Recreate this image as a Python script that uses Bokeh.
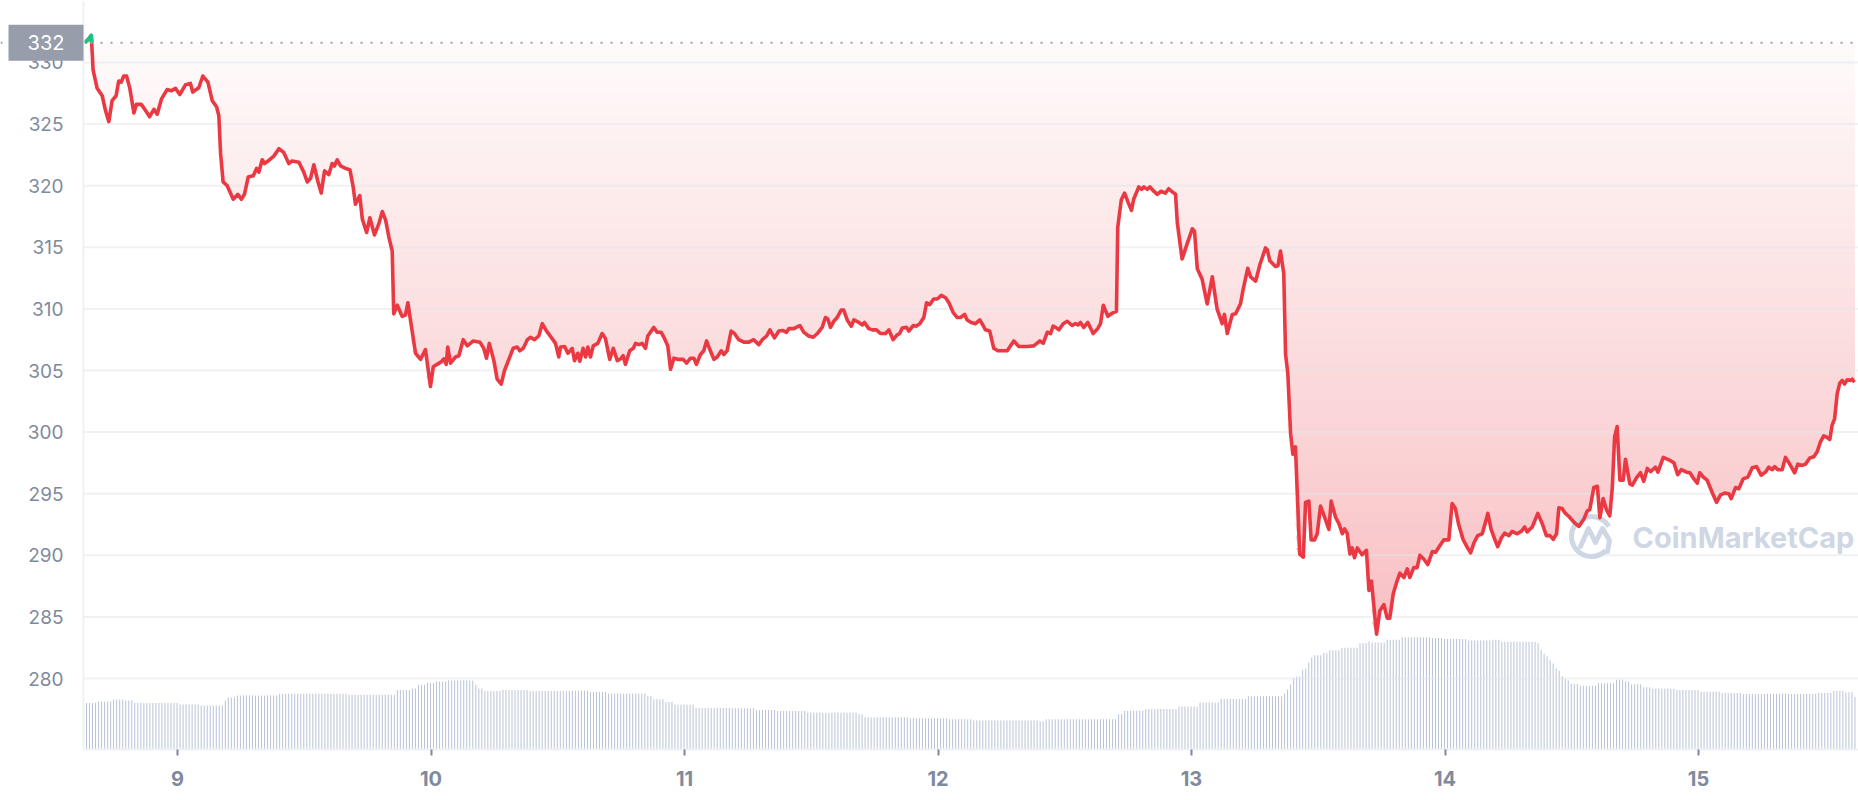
import numpy as np
from bokeh.plotting import figure
from bokeh.models import Range1d, FixedTicker, Span
from bokeh.embed import file_html
from bokeh.resources import INLINE
from bokeh.core.properties import value

# ---------------- data ----------------
price_t = [
    8.634, 8.649, 8.660, 8.667, 8.683, 8.703, 8.716, 8.729, 8.742, 8.758, 8.768,
    8.778, 8.788, 8.799, 8.812, 8.828, 8.838, 8.857, 8.874, 8.890, 8.907,
    8.920, 8.937, 8.959, 8.975, 8.992, 9.009, 9.032, 9.051, 9.060, 9.084,
    9.100, 9.120, 9.137, 9.154, 9.163, 9.170, 9.180, 9.196, 9.220, 9.238,
    9.252, 9.264, 9.279, 9.299, 9.312, 9.321, 9.334, 9.343, 9.360, 9.380,
    9.400, 9.419, 9.439, 9.452, 9.479, 9.498, 9.512, 9.525, 9.538, 9.553,
    9.567, 9.580, 9.597, 9.610, 9.619, 9.630, 9.643, 9.663, 9.680, 9.693,
    9.702, 9.719, 9.729, 9.746, 9.759, 9.777, 9.794, 9.808, 9.821, 9.834,
    9.847, 9.853, 9.867, 9.886, 9.899, 9.909, 9.919, 9.939, 9.959, 9.978,
    9.998, 10.009, 10.024, 10.040, 10.051, 10.060, 10.066, 10.077, 10.097, 10.110,
    10.127, 10.143, 10.167, 10.193, 10.208, 10.219, 10.230, 10.248, 10.261, 10.277,
    10.290, 10.311, 10.324, 10.340, 10.350, 10.364, 10.380, 10.393, 10.408, 10.425,
    10.439, 10.456, 10.474, 10.491, 10.504, 10.511, 10.527, 10.540, 10.557, 10.566,
    10.579, 10.587, 10.600, 10.610, 10.619, 10.629, 10.640, 10.658, 10.675, 10.688,
    10.705, 10.719, 10.735, 10.748, 10.758, 10.767, 10.784, 10.798, 10.807, 10.820,
    10.833, 10.846, 10.855, 10.879, 10.892, 10.908, 10.921, 10.934, 10.945, 10.958,
    10.978, 10.995, 11.008, 11.024, 11.037, 11.047, 11.063, 11.076, 11.087, 11.100,
    11.116, 11.129, 11.145, 11.155, 11.168, 11.184, 11.197, 11.214, 11.234, 11.254,
    11.273, 11.293, 11.307, 11.324, 11.337, 11.355, 11.372, 11.389, 11.402, 11.412,
    11.431, 11.455, 11.471, 11.490, 11.508, 11.524, 11.543, 11.556, 11.565, 11.576,
    11.589, 11.602, 11.618, 11.628, 11.642, 11.658, 11.668, 11.688, 11.701, 11.710,
    11.727, 11.741, 11.757, 11.773, 11.793, 11.806, 11.823, 11.839, 11.849, 11.859,
    11.876, 11.885, 11.902, 11.915, 11.928, 11.944, 11.955, 11.968, 11.983, 11.997,
    12.013, 12.030, 12.043, 12.060, 12.076, 12.089, 12.105, 12.115, 12.131, 12.148,
    12.165, 12.178, 12.187, 12.204, 12.220, 12.236, 12.260, 12.273, 12.299, 12.319,
    12.352, 12.378, 12.402, 12.415, 12.431, 12.444, 12.454, 12.464, 12.477, 12.494,
    12.510, 12.529, 12.542, 12.552, 12.562, 12.575, 12.591, 12.612, 12.630, 12.641,
    12.652, 12.670, 12.687, 12.704, 12.709, 12.723, 12.736, 12.750, 12.763, 12.772,
    12.792, 12.803, 12.812, 12.825, 12.836, 12.851, 12.865, 12.880, 12.897, 12.910,
    12.924, 12.937, 12.944, 12.963, 12.983, 13.003, 13.012, 13.023, 13.042, 13.062,
    13.082, 13.101, 13.121, 13.130, 13.141, 13.161, 13.174, 13.193, 13.204, 13.222,
    13.233, 13.253, 13.270, 13.292, 13.299, 13.309, 13.331, 13.341, 13.351, 13.364,
    13.371, 13.380, 13.391, 13.400, 13.410, 13.427, 13.441, 13.450, 13.463, 13.472,
    13.485, 13.496, 13.509, 13.525, 13.542, 13.551, 13.568, 13.581, 13.595, 13.604,
    13.614, 13.625, 13.634, 13.643, 13.654, 13.673, 13.690, 13.700, 13.710, 13.730,
    13.743, 13.759, 13.772, 13.782, 13.796, 13.809, 13.822, 13.838, 13.851, 13.861,
    13.877, 13.890, 13.901, 13.916, 13.932, 13.950, 13.963, 13.980, 13.995, 14.015,
    14.028, 14.041, 14.054, 14.072, 14.088, 14.101, 14.114, 14.129, 14.147, 14.169,
    14.182, 14.199, 14.208, 14.222, 14.235, 14.252, 14.265, 14.285, 14.301, 14.314,
    14.324, 14.344, 14.366, 14.384, 14.400, 14.414, 14.427, 14.440, 14.449, 14.462,
    14.475, 14.489, 14.508, 14.528, 14.548, 14.561, 14.571, 14.587, 14.601, 14.611,
    14.624, 14.637, 14.650, 14.660, 14.669, 14.679, 14.690, 14.703, 14.712, 14.729,
    14.739, 14.756, 14.771, 14.784, 14.798, 14.811, 14.830, 14.840, 14.861, 14.883,
    14.903, 14.918, 14.932, 14.953, 14.966, 14.982, 14.995, 15.005, 15.019, 15.034,
    15.054, 15.071, 15.087, 15.103, 15.120, 15.129, 15.146, 15.159, 15.176, 15.195,
    15.212, 15.229, 15.247, 15.264, 15.277, 15.291, 15.300, 15.313, 15.330, 15.343,
    15.360, 15.379, 15.392, 15.409, 15.422, 15.439, 15.455, 15.468, 15.481, 15.494,
    15.505, 15.518, 15.527, 15.537, 15.547, 15.557, 15.567, 15.576, 15.587, 15.600,
    15.606, 15.615,
]
price_v = [
    331.6, 331.9, 332.2, 329.4, 327.9, 327.3, 326.1, 325.2, 326.9, 327.3, 328.5,
    328.4, 328.9, 328.9, 327.9, 325.9, 326.6, 326.6, 326.1, 325.6, 326.2,
    325.8, 327.05, 327.8, 327.7, 327.9, 327.4, 328.2, 328.3, 327.6, 327.95,
    328.9, 328.4, 326.9, 326.4, 325.7, 322.6, 320.3, 320.0, 318.9, 319.3,
    318.9, 319.3, 320.7, 320.8, 321.4, 321.1, 322.1, 321.8, 322.05, 322.4,
    323.0, 322.7, 321.8, 322.0, 321.9, 321.1, 320.3, 320.6, 321.7, 320.4,
    319.4, 321.2, 320.9, 321.8, 321.6, 322.1, 321.6, 321.4, 321.3, 319.9,
    318.5, 319.2, 317.3, 316.2, 317.4, 316.0, 316.9, 317.9, 317.2, 315.8,
    314.7, 309.6, 310.3, 309.4, 309.5, 310.5, 309.1, 306.4, 305.9, 306.7,
    303.7, 305.3, 305.5, 305.7, 305.95, 305.5, 306.9, 305.6, 306.1, 306.2,
    307.5, 307.0, 307.4, 307.3, 306.8, 306.0, 307.2, 305.8, 304.3, 303.9,
    305.0, 306.1, 306.8, 306.9, 306.6, 306.8, 307.5, 307.7, 307.5, 307.8,
    308.8, 308.2, 307.7, 307.2, 306.1, 306.9, 306.95, 306.4, 306.8, 305.8,
    306.4, 305.75, 306.8, 306.1, 306.9, 306.1, 307.0, 307.2, 308.0, 307.6,
    305.9, 306.8, 305.8, 305.95, 306.2, 305.5, 306.6, 306.8, 307.2, 307.1,
    307.2, 306.8, 307.8, 308.5, 308.1, 308.1, 307.6, 307.0, 305.1, 306.0,
    305.9, 305.9, 305.6, 306.0, 306.0, 305.5, 306.3, 306.6, 307.4, 306.7,
    305.9, 306.1, 306.6, 306.3, 306.6, 308.2, 308.0, 307.5, 307.3, 307.3,
    307.5, 307.1, 307.5, 307.8, 308.3, 307.65, 308.2, 308.25, 308.1, 308.4,
    308.4, 308.65, 308.1, 307.8, 307.7, 308.0, 308.5, 309.3, 309.2, 308.5,
    309.0, 309.3, 309.9, 309.9, 309.1, 308.6, 309.1, 308.9, 308.7, 308.9,
    308.4, 308.3, 308.3, 308.0, 308.0, 308.3, 307.5, 307.9, 308.0, 308.45,
    308.5, 308.2, 308.65, 308.6, 308.8, 309.3, 310.5, 310.35, 310.8, 310.8,
    311.1, 310.9, 310.5, 309.7, 309.3, 309.3, 309.55, 309.1, 308.9, 308.8,
    309.1, 308.65, 308.3, 308.2, 306.8, 306.6, 306.6, 306.6, 307.4, 306.95,
    306.95, 307.0, 307.4, 307.2, 308.1, 308.0, 308.6, 308.5, 308.3, 308.8,
    309.0, 308.65, 308.8, 308.7, 308.9, 308.5, 308.9, 308.0, 308.4, 308.8,
    310.3, 309.4, 309.65, 309.8, 316.6, 318.85, 319.4, 318.65, 318.0, 318.9,
    319.9, 319.7, 319.9, 319.7, 319.9, 319.55, 319.3, 319.55, 319.4, 319.75,
    319.5, 319.3, 317.0, 314.05, 315.3, 316.5, 316.3, 313.25, 312.4, 310.4,
    312.6, 310.0, 308.8, 309.55, 308.0, 309.55, 309.6, 310.4, 311.6, 313.3,
    312.6, 312.25, 313.6, 314.95, 314.8, 313.9, 313.45, 313.5, 314.7, 312.85,
    306.35, 304.75, 299.85, 298.2, 298.8, 290.1, 289.85, 294.3, 294.4, 291.25,
    291.25, 291.75, 294.0, 293.1, 292.1, 294.4, 293.1, 292.6, 291.75, 292.15,
    291.8, 290.1, 290.6, 289.8, 290.6, 290.05, 290.4, 287.15, 287.9, 283.6,
    285.5, 286.0, 284.9, 284.9, 286.9, 287.8, 288.55, 288.2, 288.9, 288.2,
    289.0, 289.0, 290.0, 289.7, 289.25, 290.3, 290.25, 290.8, 291.25, 291.25,
    294.2, 293.8, 292.5, 291.25, 290.65, 290.2, 291.0, 291.6, 291.75, 293.4,
    292.1, 291.15, 290.7, 291.4, 291.8, 291.6, 291.95, 291.75, 291.95, 292.3,
    291.9, 292.3, 293.4, 292.55, 291.6, 291.6, 291.3, 291.75, 293.85, 293.8,
    293.4, 293.15, 292.7, 292.35, 292.95, 293.6, 293.7, 295.5, 295.6, 293.05,
    294.6, 293.7, 293.2, 295.5, 299.6, 300.45, 296.1, 296.1, 297.8, 295.8,
    295.7, 296.3, 296.7, 296.0, 297.05, 296.8, 297.15, 296.75, 297.95, 297.75,
    297.5, 296.55, 296.95, 296.75, 296.7, 296.2, 295.85, 296.7, 296.35, 296.1,
    295.1, 294.3, 294.9, 295.05, 295.0, 294.6, 295.5, 295.4, 296.2, 296.35,
    297.1, 297.2, 296.5, 296.75, 297.15, 296.95, 297.2, 296.95, 296.95, 297.95,
    297.4, 296.7, 297.4, 297.3, 297.4, 297.9, 298.0, 298.4, 299.2, 299.7,
    299.6, 299.4, 300.55, 301.1, 303.1, 303.95, 304.2, 303.9, 304.25, 304.2,
    304.3, 304.05,
]

# 24h volume (million USD), one bar per 1/84 day starting at VOL_T0
VOL_T0 = 8.641
VOL_PER_DAY = 84
vol_musd = [
    744, 744, 744, 744, 768, 768, 768, 768, 768, 800, 800, 800, 800, 784, 784, 784,
    744, 744, 744, 744, 744, 744, 744, 744, 744, 744, 744, 744, 744, 744, 744,
    720, 720, 720, 720, 720, 720, 720, 704, 704, 704, 704, 704, 704, 704, 704,
    784, 832, 832, 832,
    864, 864, 864, 864, 864, 864, 864, 864, 864, 864, 864, 864, 864, 864,
    891, 891, 891, 891, 891, 891, 891, 891, 891, 891, 891, 891, 891, 891, 891, 891,
    891, 891, 891, 891, 891, 891, 891,
    875, 875, 875, 875, 875, 875, 875, 875, 875, 875, 875, 875, 875, 875, 875, 875,
    952, 952, 952, 952, 952, 976, 976, 1037, 1037, 1037, 1064, 1064, 1064,
    1088, 1088, 1088, 1088, 1104, 1104, 1104, 1104, 1104, 1104, 1104, 1104, 1104,
    1040, 976, 976, 936, 936, 936, 936, 936, 936,
    954, 954, 954, 954, 954, 954, 954, 954, 954,
    936, 936, 936, 936, 936, 936, 936, 936, 936, 936, 936, 936, 936,
    941, 941, 941, 941, 941, 941, 941, 920, 920, 920, 920, 920, 920,
    898, 898, 898, 898, 898, 898, 898, 898, 898, 898, 898, 898, 898,
    854, 854, 803, 803, 803, 803, 760, 760, 760, 715, 715, 715, 715, 715, 715, 715,
    666, 666, 666, 666, 666, 666, 666, 666, 666, 666, 666, 666,
    659, 659, 659, 659, 659, 659, 659, 659, 632, 632, 632, 632, 632, 632, 632,
    616, 616, 616, 616, 616, 616, 616, 616, 616, 616,
    587, 587, 587, 587, 587, 587, 587, 587, 587, 587, 587, 587, 587, 587, 587, 587, 587,
    566, 566, 515, 515, 515, 515, 515, 515, 515, 515, 515, 515, 515, 515, 515, 515, 515,
    499, 499, 499, 499, 499, 499, 499, 499, 499, 499, 499, 499, 499,
    483, 483, 483, 483, 483, 483, 483, 483,
    466, 466, 466, 466, 466, 466, 466, 466, 466, 466, 466, 466, 466, 466, 466, 466,
    466, 466, 466, 466, 466, 466, 454, 454,
    483, 483, 483, 483, 483, 483, 483, 483, 483, 483, 483, 483, 483, 483, 483, 483,
    483, 483, 483, 483, 483, 483, 483, 483,
    566, 566, 621, 621, 621, 621, 621, 621, 621,
    650, 650, 650, 650, 650, 650, 650, 650, 650, 650, 650,
    688, 688, 688, 688, 688, 688, 688, 754, 754, 754, 754, 754, 754, 754,
    810, 810, 810, 810, 810, 810, 810, 810, 810,
    854, 854, 854, 854, 854, 854, 854, 854, 854, 854, 854, 854,
    896, 960, 1040, 1141, 1168, 1168, 1272, 1298, 1392, 1472,
    1507, 1507, 1507, 1544, 1544, 1587, 1587, 1587, 1587,
    1629, 1629, 1629, 1629, 1629, 1629, 1702, 1702, 1702, 1733,
    1712, 1712, 1712, 1712, 1712, 1755, 1755, 1755, 1755, 1755,
    1797, 1797, 1797, 1797, 1797, 1797, 1797, 1797, 1797, 1797,
    1786, 1786, 1786, 1786, 1770, 1770, 1770, 1770, 1770, 1770, 1770, 1770,
    1744, 1744, 1744, 1744, 1744, 1744, 1744, 1744, 1755, 1755, 1755,
    1723, 1723, 1723, 1723, 1723, 1723, 1723, 1723, 1723, 1723, 1723, 1723,
    1702, 1597, 1534, 1493, 1429, 1376, 1298, 1261, 1178, 1141, 1104,
    1051, 1051, 1051, 1021, 1021, 1021, 1021, 1021, 1021,
    1062, 1062, 1062, 1062, 1062, 1062, 1115, 1115, 1115, 1088, 1088,
    1046, 1046, 1046, 1046, 998, 998, 998,
    973, 973, 973, 973, 973, 973, 973, 973, 952, 952, 952, 952, 952, 952, 952, 952,
    926, 926, 926, 926, 926, 926, 926, 904, 904, 904, 904, 904, 904, 904,
    890, 890, 890, 890, 890, 890, 890, 894, 894, 894, 894, 894, 894, 894, 894,
    890, 890, 890, 890, 890, 890, 890, 890, 890, 890,
    904, 904, 904, 904, 904, 941, 941, 941, 941, 915, 915, 915, 842,
]

day_ticks = [9, 10, 11, 12, 13, 14, 15]
day_labels = ["9", "10", "11", "12", "13", "14", "15"]
price_ticks = [280, 285, 290, 295, 300, 305, 310, 315, 320, 325, 330]
baseline = 331.6          # opening price of the period
watermark = "CoinMarketCap"

# ---------------- styling / layout ----------------
RED = (234, 57, 67)
RED_HEX = "#ea3943"
GREEN = "#16c784"
AXIS_TXT = "#808a9d"
VOL_COLOR = "#b8c3d6"
WM = "#cfd6e4"

W, H = 1858, 800
FB = 51                     # space under the frame for the day labels
PXD = 253.5                 # pixels per day
X0 = 9 - 177 / PXD          # canvas left edge in days
X1 = X0 + W / PXD
Y0, Y1 = 274.24, 335.03
PXU = (H - FB) / (Y1 - Y0)  # pixels per price unit
VOL_PER_PX = 16.0
AXIS_PX = 83                # x pixel of the price axis line


def sx(px):
    return X0 + px / PXD


def sy(py):
    return Y1 - py / PXU


def tint(a):
    return "#%02x%02x%02x" % tuple(int(round(255 * (1 - a) + c * a)) for c in RED)


p = figure(width=W, height=H, output_backend="svg", toolbar_location=None,
           x_range=Range1d(X0, X1), y_range=Range1d(Y0, Y1),
           min_border_left=0, min_border_right=0, min_border_top=0,
           min_border_bottom=FB, outline_line_color=None,
           background_fill_color="white", border_fill_color="white")
p.extra_y_ranges = {"vol": Range1d(0, (H - FB) * VOL_PER_PX)}
p.xgrid.grid_line_color = None
p.ygrid.grid_line_color = None

# price axis sits inside the canvas at x = 83px
p.yaxis.fixed_location = sx(AXIS_PX)
p.yaxis.ticker = FixedTicker(ticks=price_ticks)
p.yaxis.major_tick_line_color = None
p.yaxis.minor_tick_line_color = None
p.yaxis.major_tick_out = 0
p.yaxis.major_tick_in = 0
p.yaxis.axis_line_color = "#eff2f5"
p.yaxis.axis_line_width = 2
p.yaxis.major_label_standoff = 20
p.yaxis.major_label_text_font = "Inter"
p.yaxis.major_label_text_font_size = "19px"
p.yaxis.major_label_text_color = AXIS_TXT

p.xaxis.bounds = (sx(AXIS_PX), X1)
p.xaxis.ticker = FixedTicker(ticks=day_ticks)
p.xaxis.major_label_overrides = {t: l for t, l in zip(day_ticks, day_labels)}
p.xaxis.minor_tick_line_color = None
p.xaxis.major_tick_line_color = "#7d869b"
p.xaxis.major_tick_line_width = 2
p.xaxis.major_tick_out = 6
p.xaxis.major_tick_in = 0
p.xaxis.axis_line_color = "#eff2f5"
p.xaxis.axis_line_width = 2
p.xaxis.major_label_standoff = 15
p.xaxis.major_label_text_font = "Inter"
p.xaxis.major_label_text_font_size = "20px"
p.xaxis.major_label_text_font_style = "bold"
p.xaxis.major_label_text_color = AXIS_TXT

pt = np.array(price_t)
pv = np.array(price_v)
vt = VOL_T0 + np.arange(len(vol_musd)) / VOL_PER_DAY

# gradient fill between the price line and the opening price (nested bands)
edges = np.arange(baseline, 282.5, -1.0)
for e in edges:
    y1 = np.minimum(pv, e)
    if np.all(y1 >= e):
        continue
    a = 0.022 + (baseline - (e - 0.5)) * 0.0062
    p.varea(x=pt, y1=y1, y2=np.full_like(pv, e), fill_color=tint(a))

# green fill above opening price
p.varea(x=pt, y1=np.full_like(pv, baseline), y2=np.maximum(pv, baseline),
        fill_color=GREEN, fill_alpha=0.35)

# volume bars
p.vbar(x=vt, top=vol_musd, bottom=0, width=1.0 / PXD, y_range_name="vol",
       fill_color=VOL_COLOR, line_color=None)

# horizontal grid lines (from the axis to the right edge)
p.segment(x0=[sx(AXIS_PX)] * len(price_ticks), x1=[X1] * len(price_ticks),
          y0=price_ticks, y1=price_ticks, line_color="#e4e6ea", line_alpha=0.55,
          line_width=2)

# watermark
p.text(x=[sx(1632)], y=[sy(537)], text=[watermark], text_font=value("Inter"),
       text_font_size="29px", text_font_style="bold", text_color=WM,
       text_baseline="middle", text_align="left")
p.arc(x=[sx(1591)], y=[sy(536)], radius=20 / PXD, start_angle=np.radians(30),
      end_angle=np.radians(-45), direction="anticlock", line_color=WM,
      line_width=5)
p.line(x=[sx(1580), sx(1588), sx(1595), sx(1602), sx(1609), sx(1607)],
       y=[sy(546), sy(528), sy(542), sy(528), sy(540), sy(551)],
       line_color=WM, line_width=5, line_join="round", line_cap="round")

# opening price dotted line
p.add_layout(Span(location=baseline, dimension="width", line_color="#9aa1ad",
                  line_width=2, line_dash="2 8"))

# price line
p.line(pt, pv, line_color=RED_HEX, line_width=3.6, line_join="round")


def above_segments(t, v, b):
    xs, ys, cx, cy = [], [], [], []
    for i in range(len(t)):
        if v[i] >= b:
            if not cx and i > 0:
                f = (b - v[i - 1]) / (v[i] - v[i - 1])
                cx.append(t[i - 1] + f * (t[i] - t[i - 1]))
                cy.append(b)
            cx.append(t[i])
            cy.append(v[i])
        elif cx:
            f = (b - v[i - 1]) / (v[i] - v[i - 1])
            cx.append(t[i - 1] + f * (t[i] - t[i - 1]))
            cy.append(b)
            xs.append(cx)
            ys.append(cy)
            cx, cy = [], []
    if cx:
        xs.append(cx)
        ys.append(cy)
    return xs, ys


gxs, gys = above_segments(pt, pv, baseline)
if gxs:
    p.multi_line(xs=gxs, ys=gys, line_color=GREEN, line_width=3.6, line_join="round")

# opening-price badge over the price axis
half_h = 18 / PXU
p.quad(left=[sx(8)], right=[sx(AXIS_PX)], bottom=[baseline - half_h],
       top=[baseline + half_h], fill_color="#979dab", line_color=None,
       level="overlay")
p.text(x=[sx(45.5)], y=[baseline], text=[f"{round(baseline)}"],
       text_font=value("Inter"), text_font_size="20px", text_color="white",
       text_align="center", text_baseline="middle", level="overlay")

open("out.html", "w").write(file_html(p, INLINE))
